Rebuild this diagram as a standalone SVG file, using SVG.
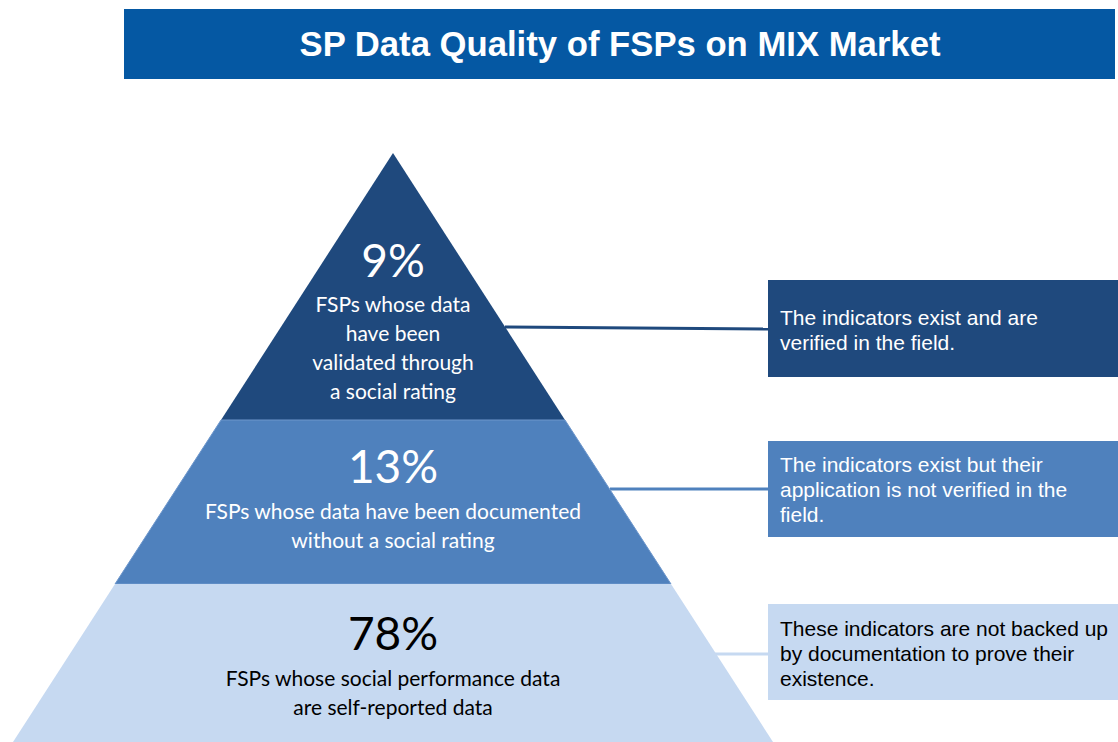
<svg xmlns="http://www.w3.org/2000/svg" width="1118" height="742" viewBox="0 0 1118 742">
<style>
.title{font-family:"Liberation Sans",Arial,sans-serif;font-weight:bold;font-size:35px;fill:#fff}
.pct{font-family:Lato,"Open Sans",sans-serif;font-size:46px;text-anchor:middle}
.lbl{font-family:Lato,"Open Sans",sans-serif;font-size:21px;text-anchor:middle}
.box{font-family:"Liberation Sans",Arial,sans-serif;font-size:21px}
.w{fill:#fff}
.k{fill:#000}
</style>
<rect width="1118" height="742" fill="#fff"/>
<g id="title">
<rect x="124" y="9" width="991" height="70" fill="#0558a3"/>
<text class="title" x="620" y="56" text-anchor="middle" textLength="641" lengthAdjust="spacingAndGlyphs">SP Data Quality of FSPs on MIX Market</text>
</g>
<g id="connectors" fill="none" stroke-width="3">
<line x1="505" y1="327" x2="770" y2="329" stroke="#1f497d"/>
<line x1="610" y1="489" x2="770" y2="489" stroke="#4f81bd"/>
<line x1="715" y1="654" x2="770" y2="654" stroke="#c6d9f1"/>
</g>
<g id="level-top">
<polygon points="393,153 565,420 221,420" fill="#1f497d"/>
<text class="pct w" x="393" y="277">9%</text>
<text class="lbl w" x="393" y="312">FSPs whose data</text>
<text class="lbl w" x="393" y="341">have been</text>
<text class="lbl w" x="393" y="370">validated through</text>
<text class="lbl w" x="393" y="399">a social rating</text>
</g>
<g id="level-middle">
<polygon points="221,420 565,420 671,584 115,584" fill="#4f81bd" stroke="#6e97cc" stroke-width="1"/>
<text class="pct w" x="393" y="483">13%</text>
<text class="lbl w" x="393" y="519">FSPs whose data have been documented</text>
<text class="lbl w" x="393" y="548">without a social rating</text>
</g>
<g id="level-bottom">
<polygon points="115,584 671,584 773,742 13,742" fill="#c6d9f1"/>
<text class="pct k" x="393" y="650">78%</text>
<text class="lbl k" x="393" y="686">FSPs whose social performance data</text>
<text class="lbl k" x="393" y="715">are self-reported data</text>
</g>
<g id="box-top">
<rect x="768" y="280" width="350" height="97" fill="#1f497d"/>
<text class="box w" x="780" y="325">The indicators exist and are</text>
<text class="box w" x="780" y="350">verified in the field.</text>
</g>
<g id="box-middle">
<rect x="768" y="441" width="350" height="96" fill="#4f81bd"/>
<text class="box w" x="780" y="472">The indicators exist but their</text>
<text class="box w" x="780" y="497">application is not verified in the</text>
<text class="box w" x="780" y="522">field.</text>
</g>
<g id="box-bottom">
<rect x="768" y="604" width="350" height="96" fill="#c6d9f1"/>
<text class="box k" x="780" y="636">These indicators are not backed up</text>
<text class="box k" x="780" y="661">by documentation to prove their</text>
<text class="box k" x="780" y="686">existence.</text>
</g>
</svg>
